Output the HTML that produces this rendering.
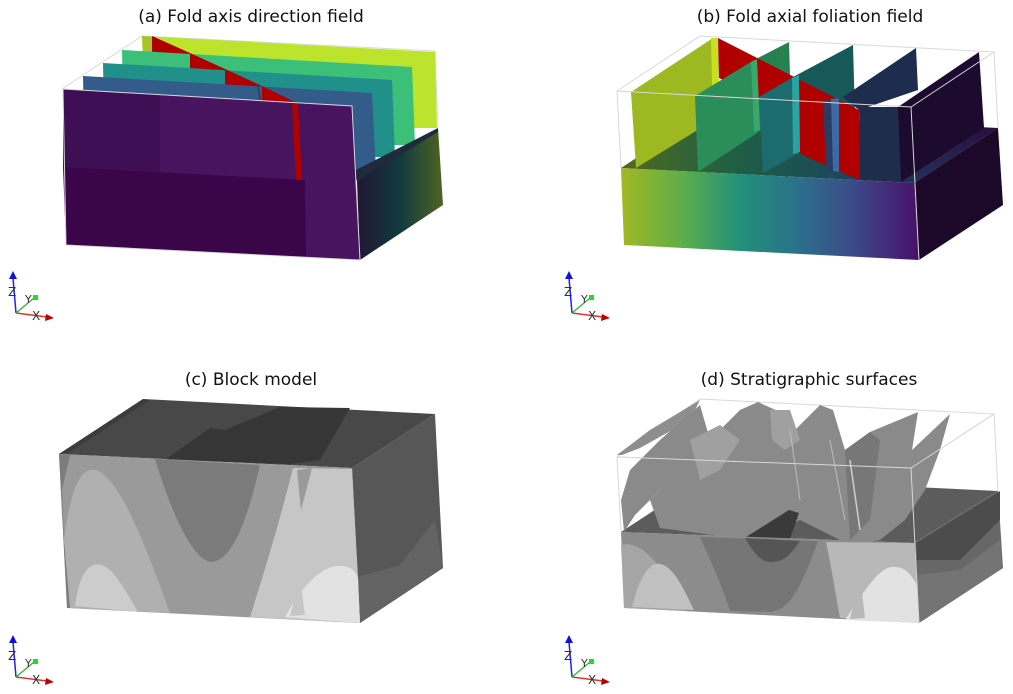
<!DOCTYPE html>
<html><head><meta charset="utf-8"><style>
html,body{margin:0;padding:0;background:#fff;}
svg{display:block;}
text{font-family:"DejaVu Sans","Liberation Sans",sans-serif;}
</style></head><body>
<svg width="1013" height="694" viewBox="0 0 1013 694" xmlns="http://www.w3.org/2000/svg">
<defs>
<linearGradient id="ra" x1="0" x2="1" y1="0" y2="0">
<stop offset="0" stop-color="#221634"/><stop offset="0.5" stop-color="#113a3e"/><stop offset="1" stop-color="#4e6420"/></linearGradient>
<linearGradient id="fb" x1="0" x2="1" y1="0" y2="0">
<stop offset="0" stop-color="#a2b823"/><stop offset="0.2" stop-color="#5fae48"/><stop offset="0.4" stop-color="#22907a"/><stop offset="0.6" stop-color="#2c6f8c"/><stop offset="0.78" stop-color="#3c4a88"/><stop offset="1" stop-color="#48106a"/></linearGradient>
<linearGradient id="tb" x1="0" x2="1" y1="0" y2="0">
<stop offset="0" stop-color="#52691f"/><stop offset="0.3" stop-color="#1f5f44"/><stop offset="0.55" stop-color="#1b4b58"/><stop offset="0.8" stop-color="#242c55"/><stop offset="1" stop-color="#2a0c3e"/></linearGradient>
<g id="ax">
<line x1="16" y1="313" x2="13" y2="278" stroke="#2222ee" stroke-width="1.5"/>
<polygon points="13,271 9,279 17,279" fill="#1010dd"/>
<line x1="16" y1="313" x2="47" y2="317" stroke="#dd3333" stroke-width="1.5"/>
<polygon points="54,318 46,314 45,321" fill="#bb0000"/>
<line x1="16" y1="313" x2="34" y2="298" stroke="#22bb22" stroke-width="1.2"/>
<rect x="33" y="295" width="5" height="5" fill="#22dd22"/>
<text x="8" y="296" font-size="12" fill="#333">Z</text>
<text x="25" y="303" font-size="11" fill="#333">Y</text>
<text x="32" y="320" font-size="12" fill="#333">X</text>
</g>
</defs>

<text x="251" y="22" font-size="17" text-anchor="middle" fill="#111">(a) Fold axis direction field</text>
<text x="810" y="22" font-size="17" text-anchor="middle" fill="#111">(b) Fold axial foliation field</text>
<text x="251" y="385" font-size="17" text-anchor="middle" fill="#111">(c) Block model</text>
<text x="809" y="385" font-size="17" text-anchor="middle" fill="#111">(d) Stratigraphic surfaces</text>

<!-- ===== Panel a ===== -->
<g stroke="#d8d8d8" stroke-width="1" fill="none">
<polyline points="62,89 142,36 435,51 352,106"/>
<line x1="435" y1="51" x2="438" y2="128"/>
</g>
<polygon points="142,36 435,52 437,128 145,128" fill="#bde42c"/>
<polygon points="142,36 157,37 158,100 145,100" fill="#a8c42a"/>
<polygon points="152,36 190,53 190,120 152,120" fill="#b00000"/>
<polygon points="122,50 412,67 415,145 124,145" fill="#3cbf78"/>
<polygon points="190,53 225,69 225,130 190,130" fill="#b00000"/>
<polygon points="103,63 392,80 395,157 105,157" fill="#21908b"/>
<polygon points="225,69 262,86 262,140 225,140" fill="#b00000"/>
<polygon points="83,76 372,93 376,170 85,170" fill="#345c8b"/>
<line x1="258" y1="86" x2="260" y2="100" stroke="#2a4670" stroke-width="2"/>
<polygon points="262,86 297,103 297,150 262,150" fill="#b00000"/>
<polygon points="357,181 438,128 443,205 360,260" fill="url(#ra)"/>
<polygon points="352,172 438,128 438,132 357,181" fill="#202a3e"/>
<polygon points="63,89 352,106 360,260 66,245" fill="#48145f"/>
<polygon points="63,89 160,95 160,172 63,167" fill="#3e0f55"/>
<polygon points="63,167 305,180 306,257 66,245" fill="#3b0549"/>
<polygon points="292,104 298,104 302,180 296,180" fill="#b00000"/>
<g stroke="#d8d8d8" stroke-width="1" fill="none">
<polyline points="63,89 352,106 360,260 66,245 63,89"/>
</g>
<use href="#ax"/>

<!-- ===== Panel b ===== -->
<g stroke="#d8d8d8" stroke-width="1" fill="none">
<polyline points="617,91 700,36 994,52 911,107 617,91"/>
<line x1="994" y1="52" x2="998" y2="128"/>
<line x1="617" y1="91" x2="621" y2="168"/>
</g>
<polygon points="621,168 705,113 998,128 914,183" fill="url(#tb)"/>
<polygon points="631,92 713,38 717,118 636,168" fill="#9db821"/>
<polygon points="711,38 718,38 719,82 712,86" fill="#c9e021"/>
<polygon points="754,60 789,42 791,110 757,133" fill="#27804f"/>
<polygon points="793,77 853,45 855,115 799,120" fill="#165958"/>
<polygon points="843,97 916,48 918,90 859,110" fill="#1e2d4e"/>
<polygon points="718,38 859,110 860,180 831,168 799,153 759,97 719,78" fill="#b00000"/>
<polygon points="695,96 754,60 757,133 698,172" fill="#2a8d5a"/>
<polygon points="751,62 757,59 760,130 754,132" fill="#3aa86d"/>
<polygon points="759,97 793,77 799,153 763,173" fill="#1b6b6f"/>
<polygon points="792,78 799,75 800,152 793,154" fill="#2aa3a3"/>
<polygon points="823,101 839,98 839,172 826,170" fill="#2b3c64"/>
<polygon points="831,99 839,98 839,172 833,171" fill="#3d6aa3"/>
<polygon points="859,107 899,107 901,182 860,180" fill="#1f2d4c"/>
<polygon points="898,107 979,52 984,128 901,182" fill="#1d0a2f"/>
<polygon points="621,168 914,183 919,260 624,245" fill="url(#fb)"/>
<polygon points="914,183 998,128 1003,205 919,260" fill="#1c0828"/>
<g stroke="#d8d8d8" stroke-width="1" fill="none">
<polyline points="617,91 911,107 919,260"/>
<line x1="911" y1="107" x2="994" y2="52"/>
</g>
<use href="#ax" transform="translate(556,0)"/>

<!-- ===== Panel c ===== -->
<polygon points="59,454 143,399 435,414 352,468" fill="#484848"/>
<polygon points="165,460 210,428 225,430 280,407 350,408 320,460 290,464" fill="#363636"/>
<polygon points="59,454 143,399 150,400 70,452" fill="#3c3c3c"/>
<polygon points="352,468 435,414 443,568 360,623" fill="#575757"/>
<polygon points="357,577 400,565 435,520 443,568 360,623" fill="#636363"/>
<polygon points="59,454 352,468 360,623 67,608" fill="#9a9a9a"/>
<polygon points="59,454 70,455 62,490 64,540 72,608 67,608" fill="#7c7c7c"/>
<path d="M64,540 C72,480 82,468 96,470 C118,478 140,530 170,613 L70,608 Z" fill="#b0b0b0"/>
<path d="M75,606 C80,570 90,562 102,565 C115,570 125,590 138,612 Z" fill="#cccccc"/>
<path d="M155,459 L260,465 C245,530 230,560 212,562 C200,562 180,540 155,459 Z" fill="#7b7b7b"/>
<path d="M293,468 L352,469 L358,578 L360,623 L250,617 C265,570 280,520 293,468 Z" fill="#c6c6c6"/>
<path d="M297,470 L312,468 L301,510 Z" fill="#9a9a9a"/>
<path d="M285,617 C300,590 320,565 340,566 C350,566 355,570 358,578 L360,623 Z" fill="#e2e2e2"/>
<path d="M300,578 L305,615 L290,616 Z" fill="#c6c6c6"/>
<use href="#ax" transform="translate(0,364)"/>

<!-- ===== Panel d ===== -->
<g stroke="#d8d8d8" stroke-width="1" fill="none">
<polyline points="617,457 700,399 994,414 911,468 617,457"/>
<line x1="994" y1="414" x2="998" y2="491"/>
<line x1="617" y1="457" x2="621" y2="532"/>
</g>
<polygon points="621,532 705,477 998,491 914,543" fill="#5c5c5c"/>
<polygon points="914,543 998,491 1003,568 919,623" fill="#676767"/>
<polygon points="916,575 960,570 1000,540 1003,568 919,623" fill="#747474"/>
<polygon points="916,543 1000,491 1000,520 960,560 917,560" fill="#4c4c4c"/>
<polygon points="617,455 650,430 700,400 690,420 640,448 622,455" fill="#8e8e8e"/>
<polygon points="621,500 630,470 660,440 700,405 710,440 690,470 660,490 635,515 624,532" fill="#8a8a8a"/>
<polygon points="650,500 680,470 720,430 740,410 758,402 780,412 795,430 820,405 833,410 845,450 870,432 918,412 912,450 950,414 940,450 925,490 905,520 880,540 850,545 800,520 760,540 720,536 690,532 660,528" fill="#8a8a8a"/>
<polygon points="690,440 720,425 740,440 720,470 700,480" fill="#a0a0a0"/>
<polygon points="770,410 790,410 800,440 785,450 772,440" fill="#a0a0a0"/>
<polygon points="845,450 870,432 880,440 870,520 850,540" fill="#777777"/>
<polygon points="746,537 789,510 799,513 789,542" fill="#3a3a3a"/>
<line x1="850" y1="460" x2="860" y2="530" stroke="#cfcfcf" stroke-width="1.5"/>
<line x1="790" y1="430" x2="800" y2="500" stroke="#bdbdbd" stroke-width="1"/>
<line x1="830" y1="440" x2="845" y2="520" stroke="#bdbdbd" stroke-width="1"/>
<polygon points="621,532 914,543 919,623 624,608" fill="#8c8c8c"/>
<path d="M621,545 C640,540 660,560 686,611 L624,608 Z" fill="#a5a5a5"/>
<path d="M632,607 C640,575 650,562 660,564 C675,566 688,598 694,610 Z" fill="#c0c0c0"/>
<path d="M700,537 L818,541 C800,590 790,610 770,612 L730,611 C720,580 710,560 700,537 Z" fill="#767676"/>
<path d="M745,538 L800,541 C790,555 785,562 770,562 C760,562 752,550 745,538 Z" fill="#555555"/>
<path d="M826,542 L914,543 L919,623 L840,618 C835,590 830,560 826,542 Z" fill="#b8b8b8"/>
<path d="M845,620 C865,590 880,565 895,567 C905,567 912,575 917,585 L919,623 Z" fill="#e2e2e2"/>
<path d="M860,575 L865,618 L850,619 Z" fill="#b8b8b8"/>
<g stroke="#d8d8d8" stroke-width="1" fill="none">
<polyline points="617,457 911,468 919,623"/>
<line x1="911" y1="468" x2="994" y2="414"/>
</g>
<use href="#ax" transform="translate(556,364)"/>
</svg>
</body></html>
